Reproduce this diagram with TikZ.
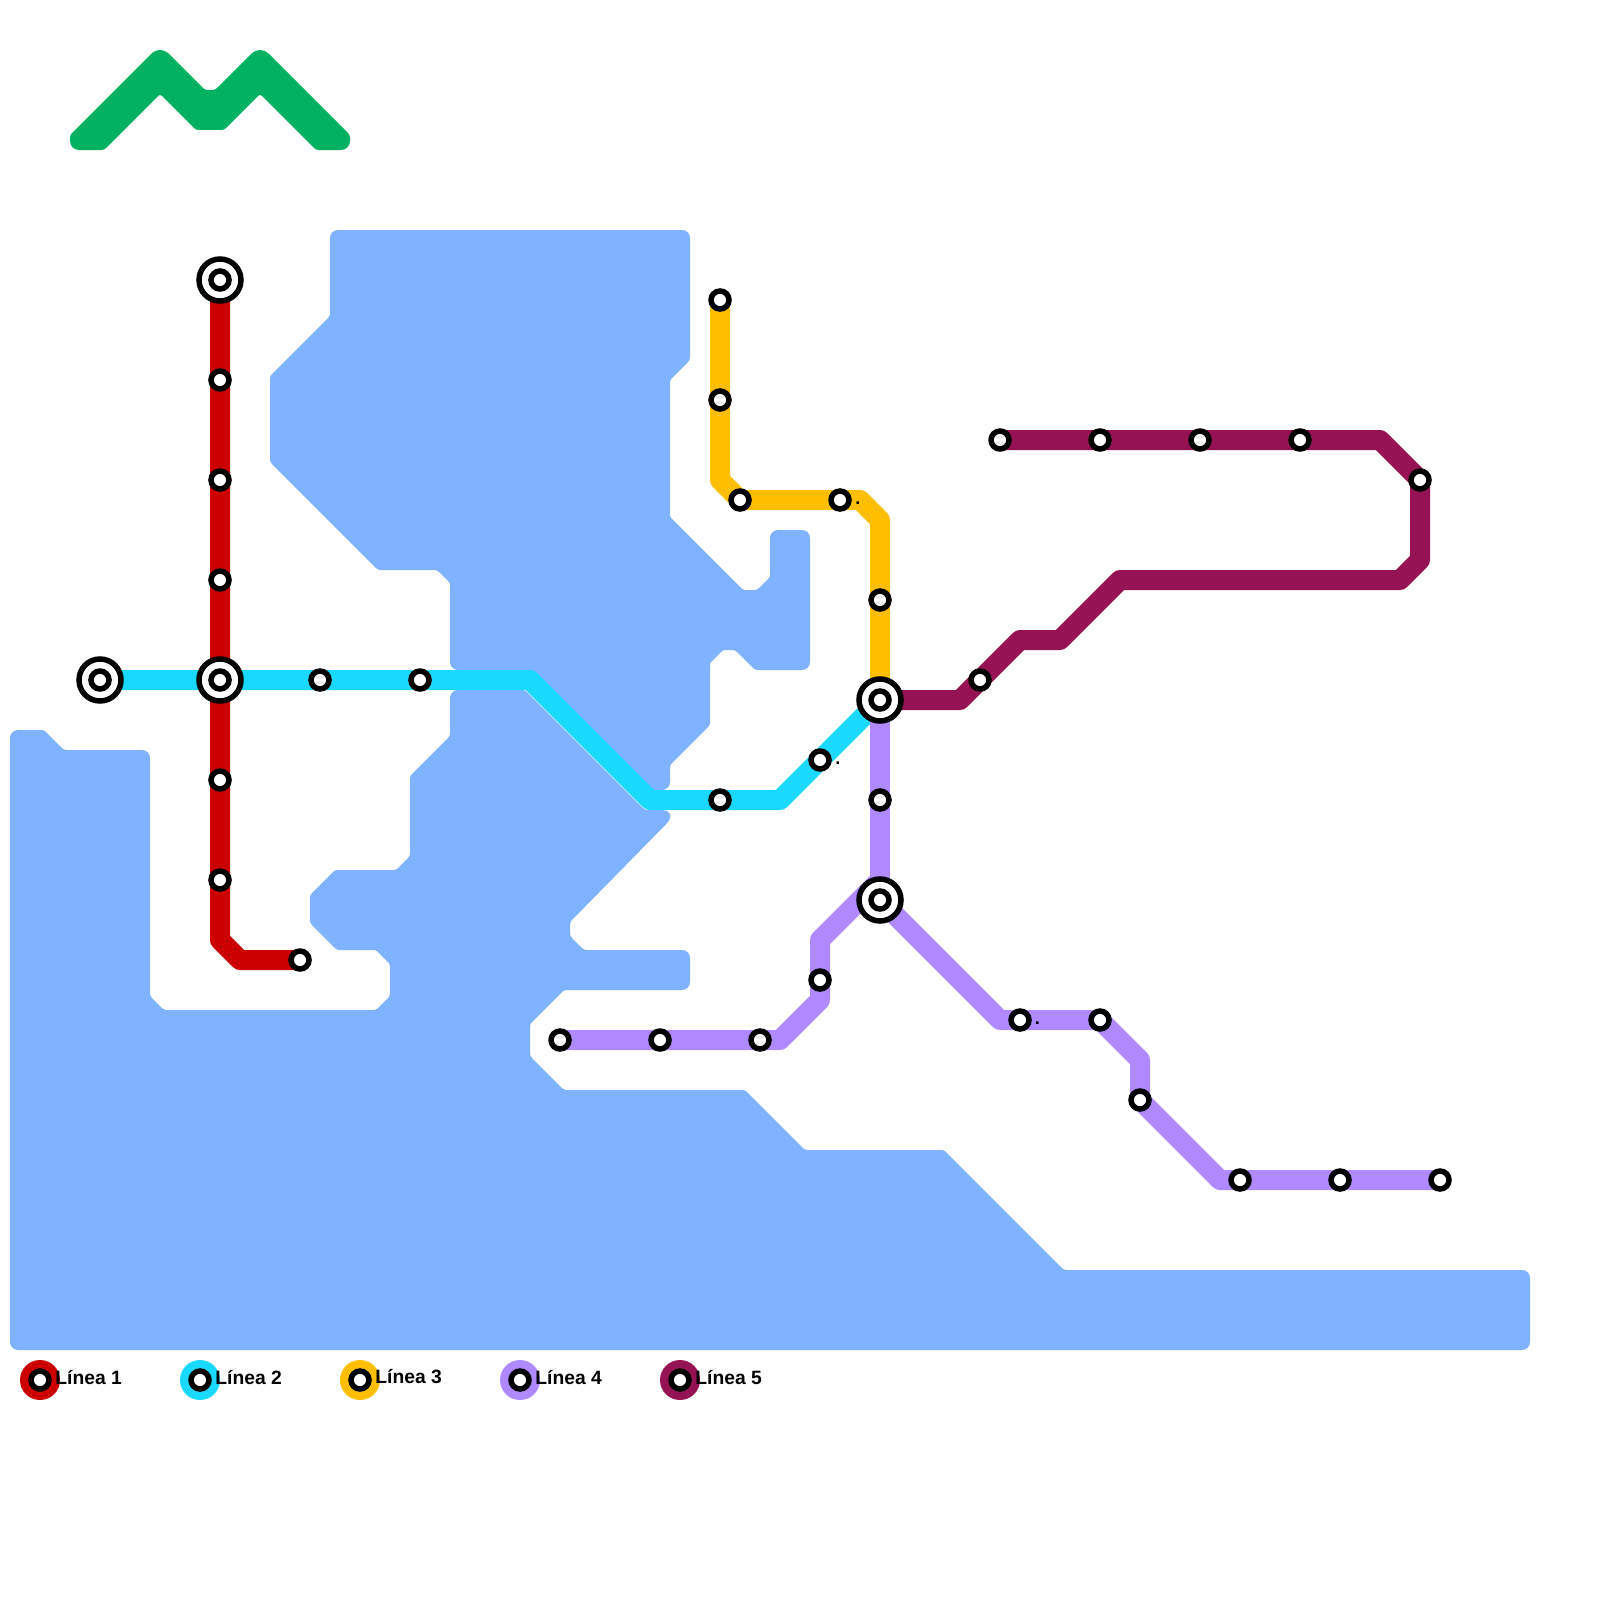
\documentclass[tikz,border=0pt]{standalone}
\usepackage{fontspec}
\setmainfont{Liberation Sans}
\usetikzlibrary{positioning}
\definecolor{waterblue}{HTML}{80B3FF}
\definecolor{logogreen}{HTML}{03B260}
\definecolor{lineone}{HTML}{CC0000}
\definecolor{linetwo}{HTML}{19D9FF}
\definecolor{linethree}{HTML}{FFBF00}
\definecolor{linefour}{HTML}{B088FF}
\definecolor{linefive}{HTML}{951255}
\pgfdeclarelayer{water}
\pgfdeclarelayer{lines}
\pgfsetlayers{water,lines,main}
\begin{document}
\begin{tikzpicture}[x=1pt,y=-1pt,
      stop node/.style={circle,draw=black,fill=white,line width=5.5pt,inner sep=0pt,minimum size=18pt},
      hub node/.style={stop node,minimum size=42pt},
      key node/.style={circle,inner sep=0pt,minimum size=40pt},
      key label/.style={inner sep=0pt,yshift=3pt,font=\fontsize{19.3}{20}\selectfont\bfseries},
      dot label/.style={inner sep=0pt,anchor=base west,font=\fontsize{18}{20}\selectfont\bfseries},
      metro line/.style={line width=20pt,line join=round},
      big/.style={rounded corners=8pt},
      small/.style={rounded corners=2.5pt}]
      \useasboundingbox (0,0) rectangle (1600,1600);

      \node[hub node] (a) at (220,280) {};
      \node[stop node] (a in) at (220,280) {};
      \node[stop node] (r1) at (220,380) {};
      \node[stop node] (r2) at (220,480) {};
      \node[stop node] (r3) at (220,580) {};
      \node[hub node] (b) at (220,680) {};
      \node[stop node] (b in) at (220,680) {};
      \node[stop node] (r4) at (220,780) {};
      \node[stop node] (r5) at (220,880) {};
      \node[stop node] (r6) at (300,960) {};

      \node[hub node] (c) at (100,680) {};
      \node[stop node] (c in) at (100,680) {};
      \node[stop node] (s1) at (320,680) {};
      \node[stop node] (s2) at (420,680) {};
      \node[stop node] (s3) at (720,800) {};
      \node[stop node] (s4) at (820,760) {};

      \node[stop node] (y1) at (720,300) {};
      \node[stop node] (y2) at (720,400) {};
      \node[stop node] (y3) at (740,500) {};
      \node[stop node] (y4) at (840,500) {};
      \node[stop node] (y5) at (880,600) {};
      \node[hub node] (d) at (880,700) {};
      \node[stop node] (d in) at (880,700) {};

      \node[stop node] (p1) at (880,800) {};
      \node[hub node] (e) at (880,900) {};
      \node[stop node] (e in) at (880,900) {};
      \node[stop node] (p2) at (820,980) {};
      \node[stop node] (p3) at (760,1040) {};
      \node[stop node] (p4) at (660,1040) {};
      \node[stop node] (p5) at (560,1040) {};
      \node[stop node] (p6) at (1020,1020) {};
      \node[stop node] (p7) at (1100,1020) {};
      \node[stop node] (p8) at (1140,1100) {};
      \node[stop node] (p9) at (1240,1180) {};
      \node[stop node] (p10) at (1340,1180) {};
      \node[stop node] (p11) at (1440,1180) {};

      \node[stop node] (m1) at (980,680) {};
      \node[stop node] (m2) at (1420,480) {};
      \node[stop node] (m3) at (1300,440) {};
      \node[stop node] (m4) at (1200,440) {};
      \node[stop node] (m5) at (1100,440) {};
      \node[stop node] (m6) at (1000,440) {};

      \node[dot label] (dot y4) at (855.2,504) {.};
      \node[dot label] (dot s4) at (835.2,764) {.};
      \node[dot label] (dot p6) at (1034.7,1024) {.};

      \node[key node,fill=lineone] (k1) at (40,1380) {};
      \node[stop node] (k1 in) at (k1) {};
      \node[key label,right=-5pt of k1] (t1) {Línea 1};
      \node[key node,fill=linetwo] (k2) at (200,1380) {};
      \node[stop node] (k2 in) at (k2) {};
      \node[key label,right=-5pt of k2] (t2) {Línea 2};
      \node[key node,fill=linethree] (k3) at (360,1380) {};
      \node[stop node] (k3 in) at (k3) {};
      \node[key label,right=-5pt of k3] (t3) {Línea 3};
      \node[key node,fill=linefour] (k4) at (520,1380) {};
      \node[stop node] (k4 in) at (k4) {};
      \node[key label,right=-5pt of k4] (t4) {Línea 4};
      \node[key node,fill=linefive] (k5) at (680,1380) {};
      \node[stop node] (k5 in) at (k5) {};
      \node[key label,right=-5pt of k5] (t5) {Línea 5};

      \coordinate (r bend1) at (220,940);
      \coordinate (r bend2) at (240,960);
      \coordinate (s bend1) at (530,680);
      \coordinate (s bend2) at (650,800);
      \coordinate (s bend3) at (780,800);
      \coordinate (y bend1) at (720,480);
      \coordinate (y bend2) at (860,500);
      \coordinate (y bend3) at (880,520);
      \coordinate (p bend1) at (880,880);
      \coordinate (p bend2) at (820,940);
      \coordinate (p bend3) at (820,1000);
      \coordinate (p bend4) at (780,1040);
      \coordinate (p bend5) at (1000,1020);
      \coordinate (p bend6) at (1140,1060);
      \coordinate (p bend7) at (1220,1180);
      \coordinate (m bend1) at (960,700);
      \coordinate (m bend2) at (1020,640);
      \coordinate (m bend3) at (1060,640);
      \coordinate (m bend4) at (1120,580);
      \coordinate (m bend5) at (1400,580);
      \coordinate (m bend6) at (1420,560);
      \coordinate (m bend7) at (1380,440);

      \begin{pgfonlayer}{lines}
      \draw[metro line,lineone] (a.center) -- (b.center) -- (r bend1) -- (r bend2) -- (r6.center);
      \draw[metro line,linetwo] (c.center) -- (s bend1) -- (s bend2) -- (s bend3) -- (d.center);
      \draw[metro line,linethree] (y1.center) -- (y bend1) -- (y3.center) -- (y bend2) -- (y bend3) -- (d.center);
      \draw[metro line,linefour] (d.center) -- (e.center);
      \draw[metro line,linefour] (p bend1) -- (p bend2) -- (p bend3) -- (p bend4) -- (p5.center);
      \draw[metro line,linefour] (e.center) -- (p bend5) -- (p7.center) -- (p bend6) -- (p8.center) -- (p bend7) -- (p11.center);
      \draw[metro line,linefive] (d.center) -- (m bend1) -- (m bend2) -- (m bend3) -- (m bend4) -- (m bend5) -- (m bend6) -- (m2.center) -- (m bend7) -- (m6.center);
      \end{pgfonlayer}

      \begin{pgfonlayer}{water}
      \path[fill=waterblue,small] (330,316) [big] -- (330,230) -- (690,230) [small] -- (690,360) -- (670,380) -- (670,517) -- (743,590) -- (757,590)
        -- (770,577) [big] -- (770,530) -- (810,530) -- (810,670) [small] -- (755,670) -- (735,650) -- (723,650) -- (710,663)
        -- (710,725) -- (670,765) [big] -- (670,790) [small] -- (650,790) -- (530,670) [big] -- (450,670) [small] -- (450,583) -- (437,570)
        -- (378,570) -- (270,462) -- (270,376) -- cycle;
      \path[fill=waterblue,small] (450,736) [big] -- (450,690) [small] -- (525,690) -- (645,810) [rounded corners=20pt] -- (680,810) [small] -- (570,922) -- (570,936)
        -- (584,950) [big] -- (690,950) -- (690,990) [small] -- (564,990) -- (530,1024) -- (530,1056) -- (564,1090) -- (745,1090)
        -- (805,1150) -- (944,1150) -- (1064,1270) [big] -- (1530,1270) -- (1530,1350) -- (10,1350) -- (10,730) [small] -- (44,730)
        -- (64,750) [big] -- (150,750) [small] -- (150,996) -- (164,1010) -- (376,1010) -- (390,996) -- (390,964) -- (376,950)
        -- (337,950) -- (310,923) -- (310,895) -- (335,870) -- (396,870) -- (410,856) -- (410,776) -- cycle;
      \path[fill=logogreen,small] (160,94) -- (196,130) -- (224,130)
        -- (260,94) -- (316,150) [rounded corners=9pt] -- (350,150) [small] -- (350,135) [rounded corners=12pt] -- (260,45) [small] -- (215,90) -- (205,90) [rounded corners=12pt] -- (160,45) [small] -- (70,135) [rounded corners=9pt] -- (70,150) [small] -- (104,150) -- cycle;
      \end{pgfonlayer}
    \end{tikzpicture}
\end{document}
